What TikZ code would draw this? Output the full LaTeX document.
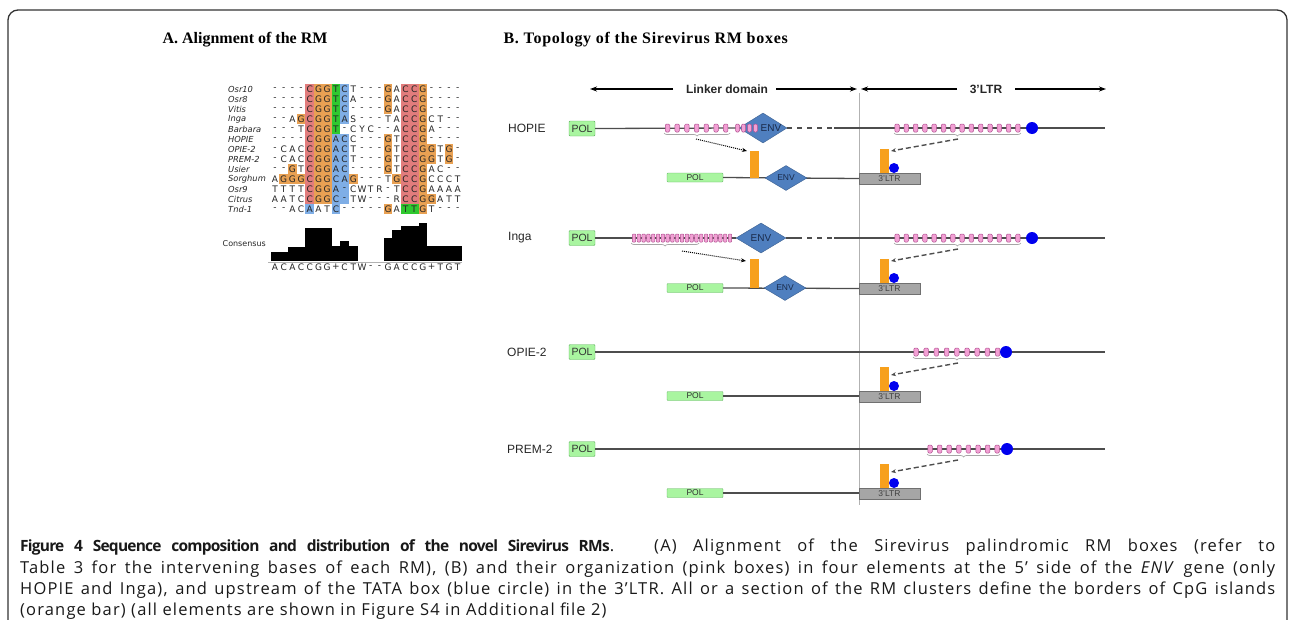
\documentclass[tikz,border=0pt]{standalone}
\usepackage{fontspec}
\setmainfont{Liberation Sans}
\newfontfamily\capfont[LetterSpace=7]{Open Sans}
\newfontfamily\capbold[LetterSpace=-5]{Open Sans Bold}
\newfontfamily\titlefont{Liberation Serif}
\newfontfamily\titlefontw[LetterSpace=4.5]{Liberation Serif}
\newfontfamily\alfont{DejaVu Sans}
\usetikzlibrary{shapes.geometric,arrows.meta,decorations.pathreplacing}

\definecolor{alp}{HTML}{E27C7C}
\definecolor{alo}{HTML}{E9A153}
\definecolor{alg}{HTML}{2FC82F}
\definecolor{alb}{HTML}{7FAEE6}
\definecolor{polfill}{HTML}{A9F5A0}
\definecolor{poldraw}{HTML}{5CAF5C}
\definecolor{envfill}{HTML}{4F7FBF}
\definecolor{envdraw}{HTML}{3A5F8F}
\definecolor{envtext}{HTML}{1A2A4A}
\definecolor{rmfill}{HTML}{F2A0D4}
\definecolor{rmdraw}{HTML}{B05090}
\definecolor{cpgc}{HTML}{F7A01C}
\definecolor{ltrfill}{HTML}{A6A6A6}
\definecolor{ltrdraw}{HTML}{707070}
\definecolor{bbc}{HTML}{4D4D4D}
\definecolor{tatac}{HTML}{0000EE}
\definecolor{framec}{HTML}{333333}

\makeatletter
\newcount\alcol
\def\alrow#1#2#3{\alcol=0 \def\al@row{#1}\pgfmathsetmacro\al@y{89+10*#1}\al@next#2\relax#3\relax}
\def\al@next#1#2\relax#3#4\relax{%
  \al@cell{#1}{#3}%
  \advance\alcol by 1
  \ifx\relax#2\relax\else\al@next#2\relax#4\relax\fi}
\def\al@cell#1#2{%
  \pgfmathsetmacro\al@x{275+8.7*\the\alcol}%
  \edef\al@nm{r\al@row c\the\alcol}%
  \if#2n\else\fill[al#2] (\al@x-4.35,\al@y-5) rectangle (\al@x+4.35,\al@y+5);\fi
  \node[alch] (\al@nm) at (\al@x,\al@y) {#1};}
\makeatother

% right (3'LTR) part of a row: id, main y, last box index, first box x, pitch, tata x, lower y
\newcommand\ltrpart[7]{%
  \foreach \i in {0,...,#3} \node[rm] (#1r\i) at ({#4+#5*\i},#2) {};
  \node[tata] (#1t) at (#6,#2) {};
  \draw[bracesty] ({#4-3},{#2+5}) -- ({#4+#5*#3+3},{#2+5});
  \coordinate (#1bt) at (958,{#2+11});
  \coordinate (#1ae) at (891,{#2+23});
  \node[ltrbox] (#1ltr) at (889.5,{#7+0.5}) {3'LTR};
  \node[cpgbar, minimum height=24pt, anchor=south] (#1cpgR) at (884,{#7-5}) {};
  \node[tatas] (#1ts) at (894,{#7-10}) {};
  \draw[dasharr] (#1bt) -- (#1ae);
}

\begin{document}
\begin{tikzpicture}[x=1pt,y=-1pt,
  bb/.style={draw=bbc, line width=1.3pt},
  polU/.style={rectangle, draw=poldraw, fill=polfill, minimum width=26pt, minimum height=15pt, inner sep=0pt, rounded corners=1pt, font=\fontsize{10.5}{12}\selectfont, text=black!80},
  polL/.style={rectangle, draw=poldraw, fill=polfill, minimum width=56pt, minimum height=9pt, inner sep=0pt, rounded corners=0.8pt, font=\fontsize{8.5}{9}\selectfont, text=black!80},
  envU/.style={diamond, draw=envdraw, fill=envfill, minimum width=48pt, minimum height=30pt, inner sep=0pt, font=\fontsize{10}{12}\selectfont, text=envtext},
  envL/.style={diamond, draw=envdraw, fill=envfill, minimum width=42pt, minimum height=25pt, inner sep=0pt, font=\fontsize{8.5}{10}\selectfont, text=envtext},
  envtx/.style={inner sep=0pt, font=\fontsize{10}{12}\selectfont, text=envtext},
  rm/.style={rectangle, rounded corners=1.2pt, draw=rmdraw, fill=rmfill, line width=0.5pt, minimum width=4.5pt, minimum height=8pt, inner sep=0pt},
  rms/.style={rm, minimum width=3.4pt, rounded corners=0.8pt},
  tata/.style={circle, fill=tatac, inner sep=0pt, minimum size=12pt},
  tatas/.style={circle, fill=tatac, inner sep=0pt, minimum size=10pt},
  cpgbar/.style={rectangle, fill=cpgc, inner sep=0pt, minimum width=9pt},
  ltrbox/.style={rectangle, draw=ltrdraw, fill=ltrfill, minimum width=61pt, minimum height=11pt, inner sep=0pt, font=\fontsize{8.5}{9}\selectfont, text=black!75},
  bracesty/.style={decorate, decoration={brace, mirror, amplitude=3pt}, draw=gray!70, line width=0.7pt},
  dotarr/.style={densely dotted, line width=1pt, -{Stealth[length=5pt,width=4pt]}},
  dasharr/.style={dash pattern=on 5pt off 3pt, draw=bbc, line width=1.4pt, -{Stealth[length=5pt,width=4pt]}},
  axarr/.style={line width=1.4pt, -{Stealth[length=7pt,width=5pt]}},
  alch/.style={inner sep=0pt, font=\alfont\fontsize{9}{9}\selectfont, text=black!85},
  allab/.style={anchor=west, inner sep=0pt, font=\alfont\itshape\fontsize{8.3}{9}\selectfont, text=black!85},
  rowlab/.style={anchor=west, inner sep=0pt, font=\fontsize{12}{14}\selectfont, text=black!85},
  capl/.style={anchor=base west, inner sep=0pt, font=\capfont\fontsize{16.5}{20}\selectfont, text=black!90},
  hist/.style={fill=black},
]
\useasboundingbox (0,0) rectangle (1295,619);
\draw[line width=1.3pt, draw=framec, rounded corners=10pt] (8,625) -- (8,10) -- (1287,10) -- (1287,625);

% titles
\node[font=\titlefont\bfseries\fontsize{16}{18}\selectfont, anchor=base] (ta) at (245,43) {A. Alignment of the RM};
\node[font=\titlefontw\bfseries\fontsize{16}{18}\selectfont, anchor=base west] (tb) at (500,43) {B. Topology of the Sirevirus RM boxes};

% ---------- Panel A: alignment ----------
\foreach \n [count=\k from 0] in {Osr10,Osr8,Vitis,Inga,Barbara,HOPIE,OPIE-2,PREM-2,Usier,Sorghum,Osr9,Citrus,Tnd-1}
  \node[allab] (lab\k) at (228,{89+10*\k}) {\n};
\alrow{0}{----CGGTCT---GACCG----}{nnnnpoogbnnnnonpponnnn}
\alrow{1}{----CGGTCA---GACCG----}{nnnnpoogbnnnnonpponnnn}
\alrow{2}{----CGGTC----GACCG----}{nnnnpoogbnnnnonpponnnn}
\alrow{3}{--AGCGGTAS---TACCGCT--}{nnnopoogbnnnnnnpponnnn}
\alrow{4}{---TCGGT-CYC--ACCGA---}{nnnnpoognnnnnnnpponnnn}
\alrow{5}{----CGGACC---GTCCG----}{nnnnpoobbnnnnonpponnnn}
\alrow{6}{-CACCGGACT---GTCCGGTG-}{nnnnpoobbnnnnonppoonon}
\alrow{7}{-CACCGGACT---GTCCGGTG-}{nnnnpoobbnnnnonppoonon}
\alrow{8}{--GTCGGAC----GTCCGAC--}{nnonpoobbnnnnonpponnnn}
\alrow{9}{AGGGCGGCAG---TGCCGCCCT}{nooopoobbonnnnopponnnn}
\alrow{10}{TTTTCGGA-CWTR-TCCGAAAA}{nnnnpoobbnnnnnnpponnnn}
\alrow{11}{AATCCGGC-TW---RCCGGATT}{nnnnpoobbnnnnnnppoonnn}
\alrow{12}{--ACAATC-----GATTGT---}{nnnnbnnbnnnnnonggonnnn}

% consensus histogram
\node[anchor=east, inner sep=0pt, font=\alfont\fontsize{8}{9}\selectfont, text=black!85] (conslab) at (266,244) {Consensus};
\foreach \c/\t in {0/252,1/252,2/247,3/247,4/228,5/228,6/228,7/246,8/241,9/246,13/238,14/230,15/226,16/226,17/223,18/246,19/246,20/246,21/246}
  \fill[hist] ({270.65+8.7*\c},\t) rectangle ({270.65+8.7*(\c+1)},261);
\draw[gray!60, line width=0.5pt] (268,262) -- (462,262);
\alrow{17.8}{ACACCGG+CTW--GACCG+TGT}{nnnnnnnnnnnnnnnnnnnnnn}

% ---------- Panel B: topology ----------
\draw[gray!60, line width=0.6pt] (859,93) -- (859,505);
% axis
\coordinate (axl0) at (673,89); \coordinate (axl1) at (590,89);
\coordinate (axl2) at (776,89); \coordinate (axl3) at (857,89);
\coordinate (axr0) at (957,89); \coordinate (axr1) at (861,89);
\coordinate (axr2) at (1015,89); \coordinate (axr3) at (1106,89);
\draw[axarr] (axl0) -- (axl1);
\draw[axarr] (axl2) -- (axl3);
\draw[axarr] (axr0) -- (axr1);
\draw[axarr] (axr2) -- (axr3);
\node[font=\bfseries\fontsize{12}{14}\selectfont, text=black!85] (lkd) at (727,89) {Linker domain};
\node[font=\bfseries\fontsize{12}{14}\selectfont, text=black!85] (ltrd) at (986,89) {3'LTR};

% ===== HOPIE =====
\node[rowlab] (hlab) at (508,128) {HOPIE};
\node[polU] (hpol) at (582,128.5) {POL};
\coordinate (hdash) at (834,128); \coordinate (hend) at (1105,128);
\node[envU] (henv) at (763,128) {};
\draw[bb] (hpol.east) -- (henv.west);
\draw[bb, dash pattern=on 5pt off 5pt] (henv.east) -- (hdash);
\draw[bb] (hdash) -- (hend);
\foreach \i in {0,...,6} \node[rm] (hl\i) at ({667.5+9.7*\i},128) {};
\foreach \i in {0,...,3} \node[rm, minimum width=4pt] (hm\i) at ({737.5+6*\i},128) {};
\node[envtx] (henvt) at (771,128) {ENV};
\draw[bracesty] (664,133) -- (730,133);
\coordinate (hlbt) at (696,139); \coordinate (hlae) at (747,151);
% lower HOPIE
\node[polL] (hpol2) at (695,177.5) {POL};
\node[ltrbox] (hltr) at (889.5,178.5) {3'LTR};
\draw[bb] (hpol2.east) -- (hltr.west);
\node[envL] (henvL) at (786,178) {ENV};
\node[cpgbar, minimum height=27pt, anchor=south] (hcpgL) at (754,178) {};
\draw[dotarr] (hlbt) -- (hlae);
\ltrpart{h}{128}{13}{897}{9.3}{1032}{178}

% ===== Inga =====
\node[rowlab] (ilab) at (508,238) {Inga};
\node[polU] (ipol) at (582,238) {POL};
\coordinate (idash0) at (797,238); \coordinate (idash) at (834,238); \coordinate (iend) at (1105,238);
\node[envU, minimum width=50pt] (ienv) at (761,238) {ENV};
\draw[bb] (ipol.east) -- (ienv.west);
\draw[bb] (ienv.east) -- (idash0);
\draw[bb, dash pattern=on 5pt off 5pt] (idash0) -- (idash);
\draw[bb] (idash) -- (iend);
\foreach \i in {0,...,20} \node[rms] (il\i) at ({634+4.8*\i},238) {};
\draw[bracesty] (631,243) -- (699,243);
\coordinate (ilbt) at (682,251); \coordinate (ilae) at (746,261);
\node[polL] (ipol2) at (695,288) {POL};
\node[ltrbox] (iltr) at (889.5,288.5) {3'LTR};
\draw[bb] (ipol2.east) -- (iltr.west);
\node[envL] (ienvL) at (785,288) {ENV};
\node[cpgbar, minimum height=29pt, anchor=south] (icpgL) at (754,288) {};
\draw[dotarr] (ilbt) -- (ilae);
\ltrpart{i}{238}{13}{897}{9.3}{1032}{288}

% ===== OPIE-2 =====
\node[rowlab] (olab) at (507,352) {OPIE-2};
\node[polU] (opol) at (582,352) {POL};
\coordinate (oend) at (1105,352);
\draw[bb] (opol.east) -- (oend);
\node[polL] (opol2) at (695,396) {POL};
\coordinate (oj) at (859,396);
\draw[bb] (opol2.east) -- (oj);
\ltrpart{o}{352}{8}{916}{10.2}{1006}{396}

% ===== PREM-2 =====
\node[rowlab] (plab) at (507,449) {PREM-2};
\node[polU] (ppol) at (582,449) {POL};
\coordinate (pend) at (1105,449);
\draw[bb] (ppol.east) -- (pend);
\node[polL] (ppol2) at (695,493) {POL};
\coordinate (pj) at (859,493);
\draw[bb] (ppol2.east) -- (pj);
\ltrpart{p}{449}{7}{930}{9.6}{1007}{493}

% ---------- caption ----------
\node[capl] (cap1) at (20,551) {\makebox[1255pt][s]{{\capbold\fontsize{15.5}{20}\selectfont Figure 4 Sequence composition and distribution of the novel Sirevirus RMs}. (A) Alignment of the Sirevirus palindromic RM boxes (refer to}};
\node[capl] (cap2) at (20,573) {\makebox[1255pt][s]{Table 3 for the intervening bases of each RM), (B) and their organization (pink boxes) in four elements at the 5’ side of the \textit{ENV} gene (only}};
\node[capl] (cap3) at (20,594.5) {\makebox[1255pt][s]{HOPIE and Inga), and upstream of the TATA box (blue circle) in the 3’LTR. All or a section of the RM clusters define the borders of CpG islands}};
\node[capl] (cap4) at (20,615.5) {(orange bar) (all elements are shown in Figure S4 in Additional file 2)};
\end{tikzpicture}
\end{document}
